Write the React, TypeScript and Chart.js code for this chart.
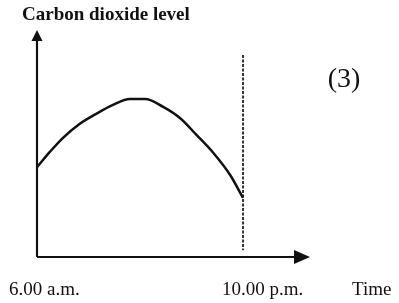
import React, { useEffect, useRef } from "react";
import { Chart, registerables } from "chart.js";

Chart.register(...registerables);

// Time in hours (6 = 6.00 a.m., 22 = 10.00 p.m.)
const hours = [6, 7.0, 8.0, 9.3, 10.7, 11.9, 13.2, 14.4, 15.8, 17.1, 18.4, 19.7, 21.0, 22];
// Carbon dioxide level (arbitrary units, 0-100)
const co2Level = [39.6, 46.3, 52.4, 58.6, 63.4, 67.0, 69.6, 69.6, 66.1, 61.2, 53.7, 45.8, 36.1, 26.0];
// Vertical dotted marker at 10.00 p.m.
const markerHour = [22, 22];
const markerLevel = [89, 3];

const xMin = 6;
const xMax = 27.2;
const yMin = 0;
const yMax = 100;

const yAxisTitle = "Carbon dioxide level";
const xTickLabels = ["6.00 a.m.", "10.00 p.m."];
const xAxisTitle = "Time";
const panelLabel = "(3)";

const sketchPlugin = {
  id: "sketch",
  beforeDatasetsDraw(chart: any) {
    const { ctx, scales } = chart;
    const x = scales.x;
    const y = scales.y;
    const x0 = x.getPixelForValue(xMin);
    const x1 = x.getPixelForValue(xMax);
    const y0 = y.getPixelForValue(yMin);
    const y1 = y.getPixelForValue(yMax);
    ctx.save();
    ctx.strokeStyle = "#111";
    ctx.fillStyle = "#111";
    ctx.lineWidth = 2.2;
    // y axis
    ctx.beginPath();
    ctx.moveTo(x0, y0);
    ctx.lineTo(x0, y1 + 8);
    ctx.stroke();
    // x axis
    ctx.beginPath();
    ctx.moveTo(x0, y0);
    ctx.lineTo(x1 - 12, y0);
    ctx.stroke();
    // y arrow head
    ctx.beginPath();
    ctx.moveTo(x0, y1);
    ctx.lineTo(x0 - 5.5, y1 + 11);
    ctx.lineTo(x0 + 5.5, y1 + 11);
    ctx.closePath();
    ctx.fill();
    // x arrow head
    ctx.beginPath();
    ctx.moveTo(x1, y0);
    ctx.lineTo(x1 - 16, y0 - 7);
    ctx.lineTo(x1 - 16, y0 + 7);
    ctx.closePath();
    ctx.fill();

    // texts
    ctx.textBaseline = "middle";
    ctx.font = "bold 19px 'Liberation Serif', serif";
    ctx.textAlign = "left";
    ctx.fillText(yAxisTitle, x0 - 15, 15);
    ctx.font = "19px 'Liberation Serif', serif";
    ctx.textAlign = "left";
    ctx.fillText(xTickLabels[0], x0 - 28, 290);
    ctx.fillText(xTickLabels[1], x.getPixelForValue(markerHour[0]) - 21, 290);
    ctx.fillText(xAxisTitle, 352, 290);
    ctx.font = "28px 'Liberation Serif', serif";
    ctx.textAlign = "center";
    ctx.fillText(panelLabel, 344, 80);
    ctx.restore();
  },
};

export default function App() {
  const ref = useRef<HTMLCanvasElement>(null);
  useEffect(() => {
    if (!ref.current) return;
    const chart = new Chart(ref.current, {
      type: "line",
      data: {
        datasets: [
          {
            data: hours.map((h, i) => ({ x: h, y: co2Level[i] })),
            borderColor: "#111",
            borderWidth: 2.5,
            pointRadius: 0,
            cubicInterpolationMode: "monotone",
            fill: false,
          },
          {
            data: markerHour.map((h, i) => ({ x: h, y: markerLevel[i] })),
            borderColor: "#333",
            borderWidth: 2,
            borderDash: [3, 1.5],
            pointRadius: 0,
            fill: false,
          },
        ],
      },
      options: {
        animation: false,
        responsive: false,
        maintainAspectRatio: false,
        layout: { padding: { left: 37, right: 89, top: 30, bottom: 46 } },
        plugins: { legend: { display: false }, tooltip: { enabled: false } },
        scales: {
          x: { type: "linear", min: xMin, max: xMax, display: false },
          y: { type: "linear", min: yMin, max: yMax, display: false },
        },
      },
      plugins: [sketchPlugin],
    });
    return () => chart.destroy();
  }, []);
  return (
    <div style={{ position: "absolute", left: 0, top: 0, width: 399, height: 303, background: "#fff" }}>
      <canvas ref={ref} width={399} height={303} />
    </div>
  );
}
